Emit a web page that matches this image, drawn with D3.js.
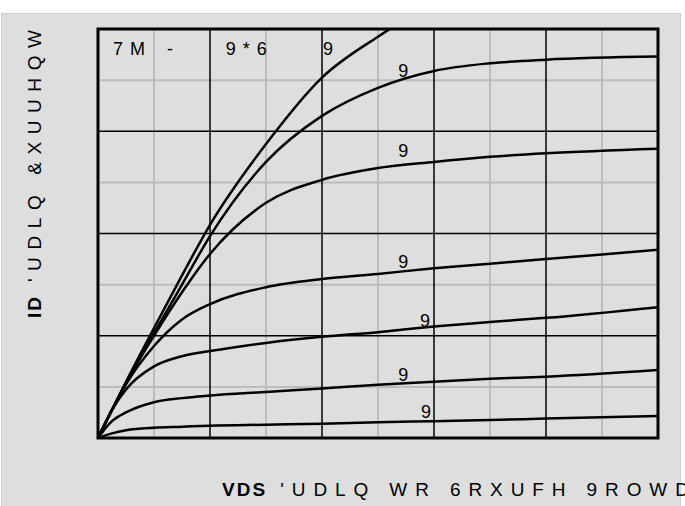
<!DOCTYPE html>
<html>
    <head>
        <script src="https://d3js.org/d3.v7.min.js"></script>
        <style>
          body { margin: 0; background: #ffffff; }
          #chart { width: 685px; height: 506px; position: relative; }
          text { font-family: "Liberation Sans", Arial, sans-serif; fill: #000; }
        </style>
    </head>
    <body>
        <div id="chart"></div>
        <script>

            /* DATA */
            var vds = [0, 0.25, 0.5, 1, 1.5, 2, 3, 4, 5, 6, 7, 8, 10];

            var id1 = [0, 0.09, 0.15, 0.20, 0.22, 0.24, 0.26, 0.28, 0.31, 0.33, 0.35, 0.38, 0.43];
            var id2 = [0, 0.33, 0.50, 0.70, 0.78, 0.83, 0.90, 0.97, 1.04, 1.10, 1.16, 1.20, 1.33];
            var id3 = [0, 0.55, 0.95, 1.40, 1.60, 1.70, 1.86, 1.98, 2.07, 2.18, 2.27, 2.35, 2.56];
            var id4 = [0, 0.55, 1.05, 1.80, 2.32, 2.62, 2.95, 3.11, 3.21, 3.32, 3.41, 3.50, 3.68];
            var id5 = [0, 0.55, 1.08, 2.00, 2.85, 3.60, 4.60, 5.05, 5.28, 5.40, 5.50, 5.57, 5.66];
            var id6 = [0, 0.55, 1.08, 2.05, 3.00, 3.95, 5.40, 6.30, 6.85, 7.18, 7.33, 7.40, 7.46];
            var id7 = [0, 0.55, 1.10, 2.15, 3.18, 4.17, 5.75, 7.05, 7.85, 8.50, 9.00, 9.40, 10.0];
            var curves = [id1, id2, id3, id4, id5, id6, id7];

            // curve labels (text as shown in the picture)
            var curveLabels = ["9", "9", "9", "9", "9", "9"];
            var labelVds = [5.77, 5.36, 5.75, 5.36, 5.36, 5.36];
            var labelId = [0.39, 1.12, 2.17, 3.33, 5.50, 7.06];

            var headerTexts = ["7M", "-", "9*6", "9"];
            var headerVds = [0.27, 1.23, 2.28, 4.02];

            var xTitleBold = "VDS";
            var xTitleRest = " 'UDLQ WR 6RXUFH 9ROWDJH";
            var yTitleBold = "ID";
            var yTitleRest = " 'UDLQ &XUUHQW";

            /* DIMENSIONS */
            var width = 685, height = 506;
            var mLeft = 98, mRight = 658, mTop = 29, mBottom = 438;

            var svg = d3.select("#chart")
                .append("svg")
                .attr("width", width)
                .attr("height", height);

            svg.append("rect")
                .attr("x", 1.5).attr("y", 13.5)
                .attr("width", 679).attr("height", 500)
                .attr("fill", "#dedede")
                .attr("stroke", "#cfcfcf")
                .attr("stroke-width", 1);

            var x = d3.scaleLinear().domain([0, 10]).range([mLeft, mRight]);
            var y = d3.scaleLinear().domain([0, 8]).range([mBottom, mTop]);

            /* GRID */
            var minorX = d3.range(1, 10, 2), majorX = d3.range(2, 10, 2);
            var minorY = d3.range(1, 8, 2), majorY = d3.range(2, 8, 2);

            var grid = svg.append("g");
            grid.selectAll(".mx").data(minorX).enter().append("line")
                .attr("x1", function(d) { return x(d); }).attr("x2", function(d) { return x(d); })
                .attr("y1", mTop).attr("y2", mBottom)
                .attr("stroke", "#bcbcbc").attr("stroke-width", 2);
            grid.selectAll(".my").data(minorY).enter().append("line")
                .attr("y1", function(d) { return y(d); }).attr("y2", function(d) { return y(d); })
                .attr("x1", mLeft).attr("x2", mRight)
                .attr("stroke", "#bcbcbc").attr("stroke-width", 2);
            grid.selectAll(".Mx").data(majorX).enter().append("line")
                .attr("x1", function(d) { return x(d); }).attr("x2", function(d) { return x(d); })
                .attr("y1", mTop).attr("y2", mBottom)
                .attr("stroke", "#000").attr("stroke-width", 1.5);
            grid.selectAll(".My").data(majorY).enter().append("line")
                .attr("y1", function(d) { return y(d); }).attr("y2", function(d) { return y(d); })
                .attr("x1", mLeft).attr("x2", mRight)
                .attr("stroke", "#000").attr("stroke-width", 1.5);

            /* CURVES */
            svg.append("clipPath").attr("id", "clip")
                .append("rect")
                .attr("x", mLeft).attr("y", mTop)
                .attr("width", mRight - mLeft).attr("height", mBottom - mTop);

            var line = d3.line()
                .x(function(d, i) { return x(vds[i]); })
                .y(function(d) { return y(d); })
                .curve(d3.curveMonotoneX);

            svg.append("g")
                .attr("clip-path", "url(#clip)")
                .selectAll("path")
                .data(curves)
                .enter()
                .append("path")
                    .attr("d", line)
                    .attr("fill", "none")
                    .attr("stroke", "#000")
                    .attr("stroke-width", 2.5);

            /* FRAME */
            svg.append("rect")
                .attr("x", mLeft).attr("y", mTop)
                .attr("width", mRight - mLeft).attr("height", mBottom - mTop)
                .attr("fill", "none")
                .attr("stroke", "#000")
                .attr("stroke-width", 3);

            /* LABELS */
            svg.append("g").selectAll("text")
                .data(curveLabels)
                .enter()
                .append("text")
                    .attr("x", function(d, i) { return x(labelVds[i]); })
                    .attr("y", function(d, i) { return y(labelId[i]); })
                    .style("font-size", "18px")
                    .text(function(d) { return d; });

            svg.append("g").selectAll("text")
                .data(headerTexts)
                .enter()
                .append("text")
                    .attr("x", function(d, i) { return x(headerVds[i]); })
                    .attr("y", 55)
                    .style("font-size", "18px")
                    .style("letter-spacing", "7px")
                    .text(function(d) { return d; });

            var xt = svg.append("text")
                .attr("x", 222).attr("y", 496)
                .style("font-size", "19px");
            xt.append("tspan").style("font-weight", "bold").style("letter-spacing", "2px").text(xTitleBold);
            xt.append("tspan").style("letter-spacing", "7.9px").text(xTitleRest);

            var yt = svg.append("text")
                .attr("transform", "translate(41,318) rotate(-90)")
                .style("font-size", "19px");
            yt.append("tspan").style("font-weight", "bold").style("letter-spacing", "2px").text(yTitleBold);
            yt.append("tspan").style("letter-spacing", "7.6px").text(yTitleRest);

        </script>
    </body>
</html>
